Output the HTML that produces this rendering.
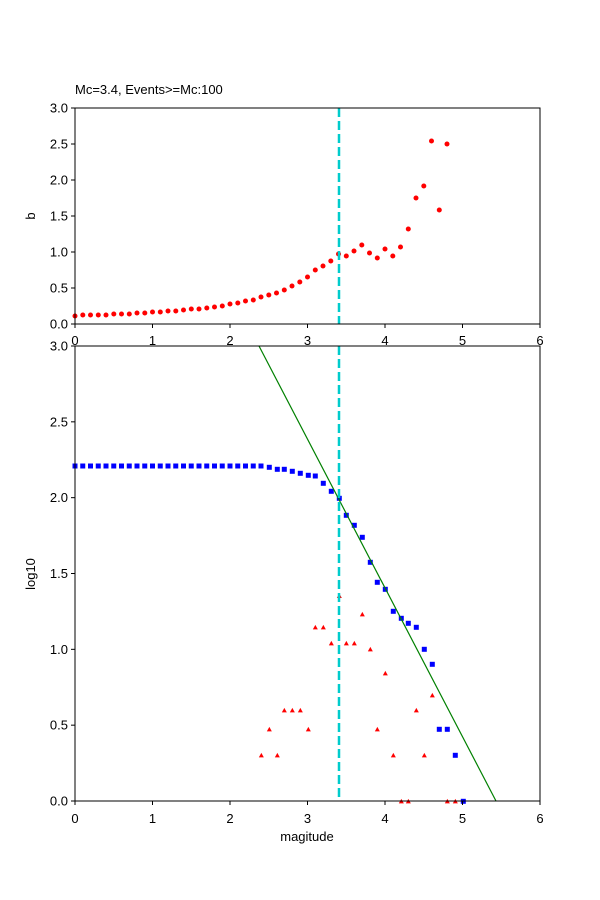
<!DOCTYPE html>
<html><head><meta charset="utf-8"><style>body{margin:0;background:#fff}svg{display:block}text{font-family:"Liberation Sans","DejaVu Sans",sans-serif;font-size:13px;fill:#000}</style></head>
<body>
<svg id="s" width="600" height="900" xmlns="http://www.w3.org/2000/svg"></svg>
<script>
(function(){
var s=document.getElementById('s'),h='';
function X(v){return 75+77.5*v}
var tp=[558,555,555,555,555,552,552,552,549,549,546,546,543,543,540,537,537,534,531,528,522,519,513,510,501,495,489,480,468,456,441,420,408,393,372,378,363,345,369,384,357,378,351,297,204,168,33,240,42];
tp.forEach(function(zy,i){h+='<circle cx="'+X(i*0.1).toFixed(1)+'" cy="'+(130+zy/3).toFixed(1)+'" r="2.5" fill="red"/>';});
h+='<line x1="339" y1="108" x2="339" y2="324" stroke="#00cccc" stroke-width="2.5" stroke-dasharray="9,4"/>';
h+='<rect x="75" y="108" width="465" height="216" fill="none" stroke="#000" stroke-width="1"/>';
for(var k=0;k<=6;k++){var x=X(k);h+='<line x1="'+x+'" y1="324" x2="'+x+'" y2="328" stroke="#000"/>';}
for(var k=0;k<=6;k++){var v=k*0.5,y=324-72*v;h+='<line x1="71" y1="'+y+'" x2="75" y2="'+y+'" stroke="#000"/><text x="68" y="'+(y+4.5)+'" text-anchor="end">'+v.toFixed(1)+'</text>';}
h+='<text x="75" y="94">Mc=3.4, Events&gt;=Mc:100</text>';
h+='<text transform="translate(35,216) rotate(-90)" text-anchor="middle">b</text>';
h+='<rect x="75" y="346" width="465" height="455" fill="#fff" stroke="none"/>';
for(var k=0;k<=6;k++){var x=X(k);h+='<text x="'+x+'" y="345" text-anchor="middle">'+k+'</text>';}
for(var i=0;i<24;i++){h+='<rect x="'+(X(i*0.1)-2.5)+'" y="463.5" width="5" height="5" fill="blue"/>';}
var bl=[[63,48],[88,52],[112,58],[133,58],[157,64],[181,70],[205,76],[226,78],[250,100],[274,124],[298,145],[319,196],[343,226],[367,262],[391,337],[412,397],[436,418],[460,484],[484,505],[505,520],[529,532],[553,598],[577,643],[598,838],[622,838],[646,916],[670,1054]];
bl.forEach(function(p){h+='<rect x="'+(240+p[0]/3-2.5).toFixed(1)+'" y="'+(450+p[1]/3-2.5).toFixed(1)+'" width="5" height="5" fill="blue"/>';});
var tr=[[64,916],[88,838],[112,916],[133,781],[157,781],[181,781],[205,838],[226,532],[250,532],[274,580],[298,438],[319,580],[343,580],[367,493],[391,598],[412,838],[436,670],[460,916],[484,1054],[505,1054],[529,781],[553,916],[577,736],[622,1054],[646,1054]];
tr.forEach(function(p){var x=240+p[0]/3,y=450+p[1]/3;h+='<polygon points="'+(x-2.5)+','+(y+2)+' '+(x+2.5)+','+(y+2)+' '+x+','+(y-2.5)+'" fill="red"/>';});
h+='<line x1="259" y1="346" x2="496" y2="801" stroke="green" stroke-width="1.2"/>';
h+='<line x1="339" y1="346" x2="339" y2="801" stroke="#00cccc" stroke-width="2.5" stroke-dasharray="9,4"/>';
h+='<rect x="75" y="346" width="465" height="455" fill="none" stroke="#000" stroke-width="1"/>';
for(var k=0;k<=6;k++){var x=X(k);h+='<line x1="'+x+'" y1="801" x2="'+x+'" y2="805" stroke="#000"/><text x="'+x+'" y="823" text-anchor="middle">'+k+'</text>';}
for(var k=0;k<=6;k++){var v=k*0.5,y=801-151.667*v;h+='<line x1="71" y1="'+y+'" x2="75" y2="'+y+'" stroke="#000"/><text x="68" y="'+(y+4.5)+'" text-anchor="end">'+v.toFixed(1)+'</text>';}
h+='<text x="307" y="841" text-anchor="middle">magitude</text>';
h+='<text transform="translate(35,574) rotate(-90)" text-anchor="middle">log10</text>';
s.innerHTML=h;
})();
</script>
</body></html>
